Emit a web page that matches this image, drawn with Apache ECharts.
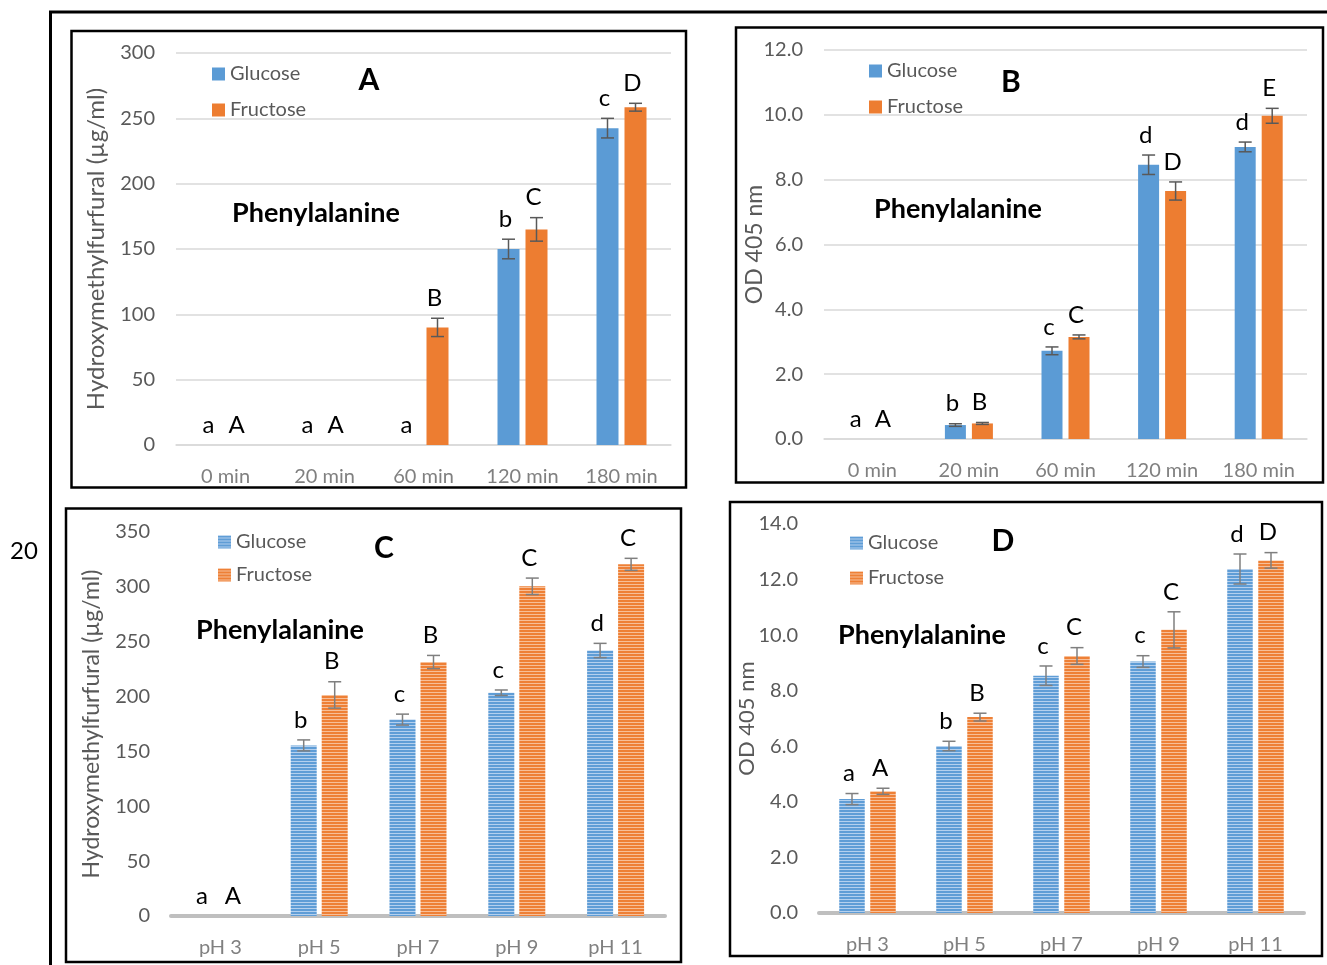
<!DOCTYPE html>
<html>
<head>
<meta charset="utf-8">
<script src="https://cdn.jsdelivr.net/npm/echarts@6/dist/echarts.min.js"></script>
<style>
  html, body { margin: 0; background: #fff; }
  #chart { width: 1327px; height: 965px; }
</style>
</head>
<body>
<div id="chart"></div>
<script>
// ---- data ----
const timeCategories = ['0 min', '20 min', '60 min', '120 min', '180 min'];
const phCategories = ['pH 3', 'pH 5', 'pH 7', 'pH 9', 'pH 11'];

// A: HMF vs time (µg/ml)
const glucoseA = [0, 0, 0, 150, 242.5];
const glucoseAErr = [0, 0, 0, 7.5, 7.5];
const glucoseALetters = ['a', 'a', 'a', 'b', 'c'];
const fructoseA = [0, 0, 90, 165, 258.5];
const fructoseAErr = [0, 0, 7, 9, 3];
const fructoseALetters = ['A', 'A', 'B', 'C', 'D'];

// B: OD 405 vs time
const glucoseB = [0, 0.43, 2.72, 8.46, 9.01];
const glucoseBErr = [0, 0.04, 0.12, 0.3, 0.15];
const glucoseBLetters = ['a', 'b', 'c', 'd', 'd'];
const fructoseB = [0, 0.48, 3.15, 7.65, 9.97];
const fructoseBErr = [0, 0.03, 0.06, 0.28, 0.23];
const fructoseBLetters = ['A', 'B', 'C', 'D', 'E'];

// C: HMF vs pH (µg/ml)
const glucoseC = [0, 155.5, 179, 203.5, 242];
const glucoseCErr = [0, 5, 5, 2.5, 6.5];
const glucoseCLetters = ['a', 'b', 'c', 'c', 'd'];
const fructoseC = [0, 201.5, 231.5, 300.5, 320.5];
const fructoseCErr = [0, 12, 6, 7.5, 5.5];
const fructoseCLetters = ['A', 'B', 'B', 'C', 'C'];

// D: OD 405 vs pH
const glucoseD = [4.1, 6.01, 8.54, 9.05, 12.38];
const glucoseDErr = [0.2, 0.17, 0.35, 0.21, 0.54];
const glucoseDLetters = ['a', 'b', 'c', 'c', 'd'];
const fructoseD = [4.38, 7.05, 9.25, 10.19, 12.69];
const fructoseDErr = [0.11, 0.14, 0.3, 0.65, 0.28];
const fructoseDLetters = ['A', 'B', 'C', 'C', 'D'];

const yMaxA = 300, yStepA = 50;
const yMaxB = 12, yStepB = 2;
const yMaxC = 350, yStepC = 50;
const yMaxD = 14, yStepD = 2;

const hmfName = 'Hydroxymethylfurfural (µg/ml)';
const odName = 'OD 405 nm';

// ---- styling ----
const FONT = 'Lato';
const BLUE = '#5b9bd5';
const ORANGE = '#ed7d31';

function stripes(base, light) {
  const c = document.createElement('canvas');
  c.width = 4;
  c.height = 3;
  const ctx = c.getContext('2d');
  ctx.fillStyle = base;
  ctx.fillRect(0, 0, 4, 3);
  ctx.fillStyle = light;
  ctx.fillRect(0, 2, 4, 1);
  return { image: c, repeat: 'repeat' };
}
const blueStripes = stripes('#5f9dd6', '#b4d0ee');
const orangeStripes = stripes('#ee8036', '#f7bf98');

const panels = [
  {
    cats: timeCategories, yMax: yMaxA, yStep: yStepA, dec: 0, yName: hmfName, nameSize: 24, nameGap: 68,
    g: [glucoseA, glucoseAErr, glucoseALetters], f: [fructoseA, fructoseAErr, fructoseALetters],
    grid: { left: 176, top: 53, width: 495, height: 392 }, barW: 22, gap: 6,
    legend: [207, 58, 14], striped: false, errColor: '#595959'
  },
  {
    cats: timeCategories, yMax: yMaxB, yStep: yStepB, dec: 1, yName: odName, nameSize: 23, nameGap: 58,
    g: [glucoseB, glucoseBErr, glucoseBLetters], f: [fructoseB, fructoseBErr, fructoseBLetters],
    grid: { left: 824, top: 50, width: 483, height: 389 }, barW: 21, gap: 6,
    legend: [864, 55, 14], striped: false, errColor: '#595959'
  },
  {
    cats: phCategories, yMax: yMaxC, yStep: yStepC, dec: 0, yName: hmfName, nameSize: 23, nameGap: 68,
    g: [glucoseC, glucoseCErr, glucoseCLetters], f: [fructoseC, fructoseCErr, fructoseCLetters],
    grid: { left: 171, top: 532, width: 494, height: 384 }, barW: 26, gap: 5,
    legend: [213, 526, 11], striped: true, errColor: '#7f7f7f'
  },
  {
    cats: phCategories, yMax: yMaxD, yStep: yStepD, dec: 1, yName: odName, nameSize: 22, nameGap: 61,
    g: [glucoseD, glucoseDErr, glucoseDLetters], f: [fructoseD, fructoseDErr, fructoseDLetters],
    grid: { left: 819, top: 524, width: 485, height: 389 }, barW: 25.5, gap: 5.5,
    legend: [845, 527, 13], striped: true, errColor: '#7f7f7f'
  }
];

function errorSeries(i, name, values, errs, letters, offset, color) {
  return {
    name: name,
    type: 'custom',
    xAxisIndex: i,
    yAxisIndex: i,
    z: 5,
    silent: true,
    clip: false,
    encode: { x: 0, y: 1 },
    data: values.map((v, k) => [k, v, errs[k]]),
    renderItem: function (params, api) {
      const idx = api.value(0);
      const v = api.value(1);
      const e = api.value(2);
      const x = api.coord([idx, v])[0] + offset;
      const top = api.coord([idx, v + e])[1];
      const bot = api.coord([idx, v - e])[1];
      const lineStyle = { stroke: color, lineWidth: 1.5 };
      const children = [];
      if (e > 0) {
        children.push(
          { type: 'line', shape: { x1: x, y1: top, x2: x, y2: bot }, style: lineStyle },
          { type: 'line', shape: { x1: x - 6.5, y1: top, x2: x + 6.5, y2: top }, style: lineStyle },
          { type: 'line', shape: { x1: x - 6.5, y1: bot, x2: x + 6.5, y2: bot }, style: lineStyle }
        );
      }
      children.push({
        type: 'text',
        style: {
          text: letters[params.dataIndex],
          x: x - 3,
          y: top - 20,
          textAlign: 'center',
          textVerticalAlign: 'middle',
          font: '24px ' + FONT,
          fill: '#000'
        }
      });
      return { type: 'group', children: children };
    }
  };
}

const grids = [];
const xAxes = [];
const yAxes = [];
const series = [];
const legends = [];

panels.forEach(function (p, i) {
  grids.push(Object.assign({ outerBoundsMode: 'none', containLabel: false }, p.grid));
  xAxes.push({
    type: 'category',
    gridIndex: i,
    data: p.cats,
    axisTick: { show: false },
    axisLine: p.striped
      ? { lineStyle: { color: '#bfbfbf', width: 4 } }
      : { lineStyle: { color: '#d9d9d9', width: 1.5 } },
    axisLabel: { fontFamily: FONT, fontSize: 20, color: '#808080', margin: 22 }
  });
  yAxes.push({
    type: 'value',
    gridIndex: i,
    min: 0,
    max: p.yMax,
    interval: p.yStep,
    name: p.yName,
    nameLocation: 'middle',
    nameGap: p.nameGap,
    nameMoveOverlap: false,
    nameTextStyle: { fontFamily: FONT, fontSize: p.nameSize, color: '#595959' },
    axisLine: { show: false },
    axisTick: { show: false },
    splitLine: { show: !p.striped, lineStyle: { color: '#d9d9d9', width: 1.5 } },
    axisLabel: {
      fontFamily: FONT, fontSize: 20, color: '#595959', margin: 21,
      formatter: function (v) { return v.toFixed(p.dec); }
    }
  });

  const gColor = p.striped ? blueStripes : BLUE;
  const fColor = p.striped ? orangeStripes : ORANGE;
  const gapPct = (p.gap / p.barW * 100).toFixed(1) + '%';
  series.push({
    name: 'Glucose', type: 'bar', xAxisIndex: i, yAxisIndex: i,
    barWidth: p.barW, barGap: gapPct, data: p.g[0],
    itemStyle: { color: gColor }
  });
  series.push({
    name: 'Fructose', type: 'bar', xAxisIndex: i, yAxisIndex: i,
    barWidth: p.barW, barGap: gapPct, data: p.f[0],
    itemStyle: { color: fColor }
  });
  const off = (p.barW + p.gap) / 2;
  series.push(errorSeries(i, 'gErr' + i, p.g[0], p.g[1], p.g[2], -off, p.errColor));
  series.push(errorSeries(i, 'fErr' + i, p.f[0], p.f[1], p.f[2], off, p.errColor));

  legends.push({
    left: p.legend[0],
    top: p.legend[1],
    orient: 'vertical',
    itemGap: p.legend[2],
    itemWidth: 13,
    itemHeight: 13,
    icon: 'rect',
    selectedMode: false,
    textStyle: { fontFamily: FONT, fontSize: 20, color: '#595959', lineHeight: 22 },
    data: [
      { name: 'Glucose', itemStyle: { color: gColor } },
      { name: 'Fructose', itemStyle: { color: fColor } }
    ]
  });
});

function label(text, x, y, size, bold) {
  return {
    type: 'text', x: x, y: y, z: 10,
    style: {
      text: text, fill: '#000', textAlign: 'center', textVerticalAlign: 'middle',
      font: (bold ? 'bold ' : '') + size + 'px ' + FONT
    }
  };
}
function frame(x1, y1, x2, y2) {
  return {
    type: 'rect', z: 10,
    shape: { x: x1, y: y1, width: x2 - x1, height: y2 - y1 },
    style: { fill: 'none', stroke: '#000', lineWidth: 2.5 }
  };
}

const chart = echarts.init(document.getElementById('chart'));
chart.setOption({
  animation: false,
  grid: grids,
  xAxis: xAxes,
  yAxis: yAxes,
  legend: legends,
  series: series,
  graphic: [
    { type: 'line', z: 10, shape: { x1: 49, y1: 12, x2: 1327, y2: 12 }, style: { stroke: '#000', lineWidth: 3 } },
    { type: 'line', z: 10, shape: { x1: 50.5, y1: 11, x2: 50.5, y2: 965 }, style: { stroke: '#000', lineWidth: 3 } },
    frame(71.5, 31, 686, 487.5),
    frame(736, 27.5, 1323, 482.5),
    frame(66, 508.5, 681, 962),
    frame(730, 502, 1322, 956),
    label('20', 24, 551, 24, false),
    label('A', 369, 80, 30, true),
    label('B', 1011, 82, 30, true),
    label('C', 384, 548, 30, true),
    label('D', 1003, 541, 30, true),
    label('Phenylalanine', 316, 213, 27, true),
    label('Phenylalanine', 958, 209, 27, true),
    label('Phenylalanine', 280, 630, 27, true),
    label('Phenylalanine', 922, 635, 27, true)
  ]
});
</script>
</body>
</html>
